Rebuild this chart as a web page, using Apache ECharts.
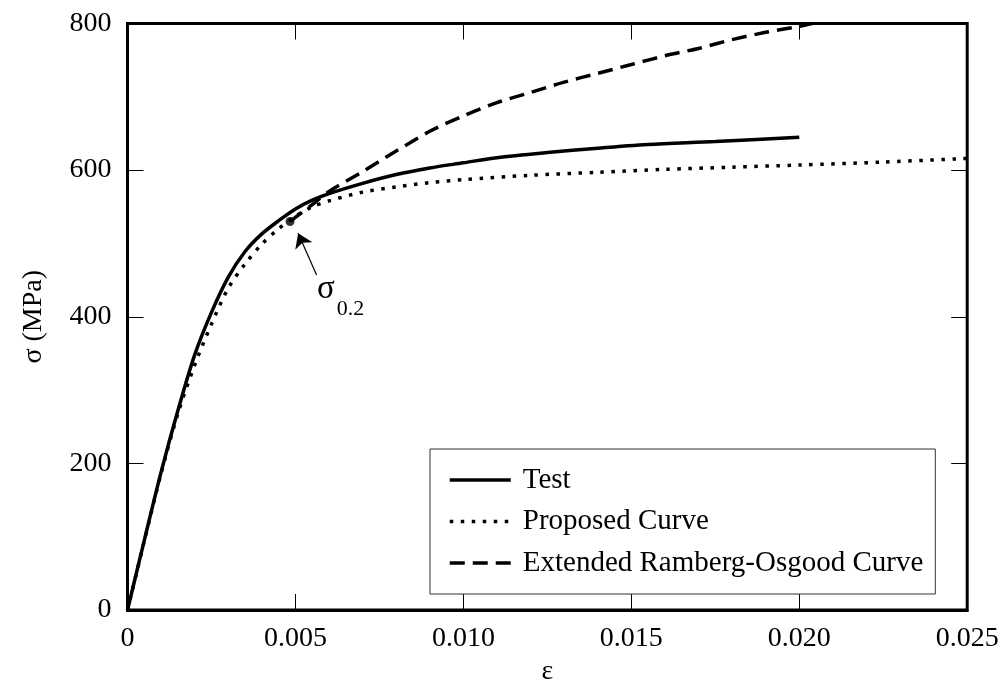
<!DOCTYPE html>
<html>
<head>
<meta charset="utf-8">
<script src="https://cdn.jsdelivr.net/npm/echarts@6/dist/echarts.min.js"></script>
<style>
  html, body { margin: 0; padding: 0; background: #fff; }
  #chart { width: 1004px; height: 682px; }
</style>
</head>
<body>
<div id="chart"></div>
<script>
// stress-strain curves, [strain, stress MPa]
const testCurve = [
  [0, 0], [0.0005, 95], [0.001, 188], [0.0015, 272], [0.002, 348],
  [0.0025, 406], [0.003, 454], [0.0035, 489], [0.004, 513], [0.0045, 531],
  [0.005, 547], [0.0055, 559], [0.006, 568], [0.007, 582], [0.008, 594],
  [0.009, 603], [0.010, 610], [0.011, 617], [0.0125, 624], [0.014, 630],
  [0.0155, 635], [0.0175, 639], [0.020, 645]
];
const proposedCurve = [
  [0, 0], [0.0005, 94], [0.001, 186], [0.0015, 268], [0.002, 334],
  [0.0025, 390], [0.003, 439], [0.0035, 472], [0.004, 499], [0.0045, 520],
  [0.005, 537], [0.0055, 550], [0.006, 558], [0.007, 570], [0.008, 577],
  [0.009, 583], [0.010, 587], [0.012, 593], [0.014, 597], [0.016, 601],
  [0.018, 604], [0.020, 607], [0.0225, 611], [0.025, 616]
];
const rambergOsgood = [
  [0.00484, 530], [0.0055, 553], [0.006, 571], [0.007, 598], [0.008, 626],
  [0.009, 653], [0.010, 674], [0.011, 692], [0.012, 706], [0.013, 720],
  [0.014, 732], [0.015, 744], [0.016, 756], [0.017, 766], [0.018, 778],
  [0.019, 788], [0.020, 796], [0.0205, 801]
];
const sigma02 = [0.00484, 530];
const arrowFrom = [0.00563, 457];
const arrowTo = [0.00508, 514];
const sigmaLabelAt = [0.00591, 437];
const subLabelAt = [0.00664, 410];

const seriesNames = ['Test', 'Proposed Curve', 'Extended Ramberg-Osgood Curve'];
const xTickLabels = ['0', '0.005', '0.010', '0.015', '0.020', '0.025'];
const yTickLabels = ['0', '200', '400', '600', '800'];

const FONT = 'Liberation Serif';
const chart = echarts.init(document.getElementById('chart'));

const tickStyle = { show: true, inside: true, length: 16, lineStyle: { color: '#000', width: 1 } };

chart.setOption({
  animation: false,
  textStyle: { fontFamily: FONT, color: '#000' },
  grid: {
    left: 127.5, right: 36.8, top: 23.5, bottom: 72,
    outerBoundsMode: 'none', containLabel: false,
    show: true, borderColor: '#000', borderWidth: 3, backgroundColor: 'transparent'
  },
  legend: {
    data: seriesNames,
    orient: 'vertical',
    left: 430, top: 449,
    padding: [16, 12, 16, 18],
    itemWidth: 61, itemHeight: 2, itemGap: 11.5,
    itemStyle: { opacity: 0 },
    lineStyle: { width: 3.5 },
    borderColor: '#333', borderWidth: 1, backgroundColor: '#fff',
    textStyle: { fontFamily: FONT, fontSize: 29, lineHeight: 30, color: '#000', padding: [0, 0, 0, 7] }
  },
  xAxis: [{
    type: 'value', min: 0, max: 0.025, interval: 0.005,
    name: 'ε', nameLocation: 'middle', nameGap: 27,
    nameTextStyle: { fontFamily: FONT, fontSize: 28, color: '#000' },
    axisLine: { show: true, onZero: false, lineStyle: { color: '#000', width: 3 } },
    axisTick: tickStyle,
    splitLine: { show: false },
    axisLabel: {
      margin: 15, fontFamily: FONT, fontSize: 28, color: '#000',
      formatter: (v, i) => xTickLabels[i]
    }
  }, {
    type: 'value', min: 0, max: 0.025, interval: 0.005, position: 'top',
    axisLine: { show: false, onZero: false }, axisTick: tickStyle,
    axisLabel: { show: false }, splitLine: { show: false }
  }],
  yAxis: [{
    type: 'value', min: 0, max: 800, interval: 200,
    name: 'σ (MPa)', nameLocation: 'middle', nameGap: 80,
    nameTextStyle: { fontFamily: FONT, fontSize: 28, color: '#000' },
    axisLine: { show: true, onZero: false, lineStyle: { color: '#000', width: 3 } },
    axisTick: tickStyle,
    splitLine: { show: false },
    axisLabel: {
      margin: 16, fontFamily: FONT, fontSize: 28, color: '#000',
      formatter: (v, i) => yTickLabels[i]
    }
  }, {
    type: 'value', min: 0, max: 800, interval: 200, position: 'right',
    axisLine: { show: false, onZero: false }, axisTick: tickStyle,
    axisLabel: { show: false }, splitLine: { show: false }
  }],
  series: [
    {
      name: seriesNames[0], type: 'line', data: testCurve,
      symbol: 'none', smooth: 0.3,
      lineStyle: { color: '#000', width: 3.5 },
      itemStyle: { color: '#000' }
    },
    {
      name: seriesNames[1], type: 'line', data: proposedCurve,
      symbol: 'none', smooth: 0.3,
      lineStyle: { color: '#000', width: 3.5, type: [3.5, 7.5], cap: 'butt' },
      itemStyle: { color: '#000' }
    },
    {
      name: seriesNames[2], type: 'line', data: rambergOsgood,
      symbol: 'none', smooth: 0.3,
      lineStyle: { color: '#000', width: 3.5, type: [15, 8], cap: 'butt' },
      itemStyle: { color: '#000' }
    },
    {
      name: 'sigma02', type: 'scatter', data: [sigma02],
      symbol: 'circle', symbolSize: 9,
      itemStyle: { color: '#000' },
      z: 5,
      markLine: {
        silent: true, symbol: ['none', 'arrow'], symbolSize: 14,
        lineStyle: { color: '#000', width: 1.2, type: 'solid' },
        label: { show: false },
        data: [[{ coord: arrowFrom }, { coord: arrowTo }]]
      },
      markPoint: {
        silent: true, symbol: 'circle', symbolSize: 0,
        data: [
          { coord: sigmaLabelAt, label: { show: true, formatter: 'σ', fontFamily: FONT, fontSize: 33, color: '#000' } },
          { coord: subLabelAt, label: { show: true, formatter: '0.2', fontFamily: FONT, fontSize: 22, color: '#000' } }
        ]
      }
    }
  ]
});
</script>
</body>
</html>
